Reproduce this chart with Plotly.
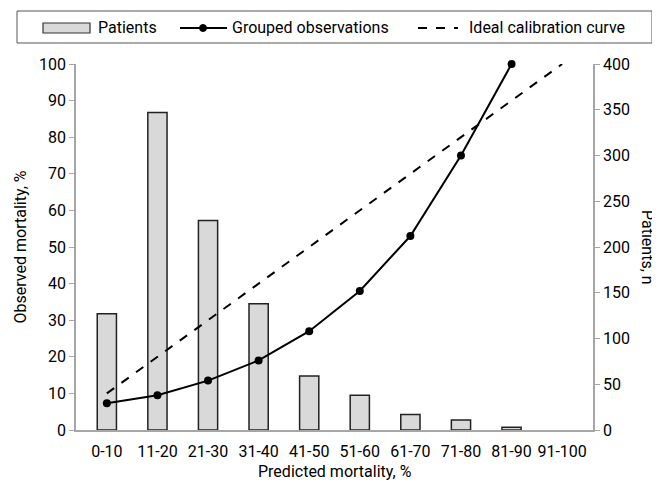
import plotly.graph_objects as go

categories = ["0-10", "11-20", "21-30", "31-40", "41-50", "51-60", "61-70", "71-80", "81-90", "91-100"]
patients = [127, 347, 229, 138, 59, 38, 17, 11, 3, 0]
observed = [7.3, 9.5, 13.5, 19.0, 27.0, 38.0, 53.0, 75.0, 100.0, None]
ideal = [10, 20, 30, 40, 50, 60, 70, 80, 90, 100]
series_names = ["Patients", "Grouped observations", "Ideal calibration curve"]

FONT = "Roboto, Liberation Sans, sans-serif"
FS = 16

OFF = 8  # default page body margin
W, H = 660 - OFF, 489 - 2 * OFF
ML, MT = 76 - OFF, 64 - OFF
PW, PH = 517, 366
MR = W - ML - PW
MB = H - MT - PH


def px(x):
    return (x - OFF - ML) / PW


def py(y):
    return (MT + PH - (y - OFF)) / PH


fig = go.Figure()
fig.add_trace(go.Bar(
    x=categories, y=patients, name=series_names[0], yaxis="y",
    marker=dict(color="#d9d9d9",
                line=dict(color="#222222", width=[1.5 if v > 0 else 0 for v in patients])),
))
fig.add_trace(go.Scatter(
    x=categories, y=observed, name=series_names[1], yaxis="y2",
    mode="lines+markers", line=dict(color="black", width=2),
    marker=dict(color="black", size=8), cliponaxis=False,
))
fig.add_trace(go.Scatter(
    x=categories, y=ideal, name=series_names[2], yaxis="y2",
    mode="lines", line=dict(color="black", width=2, dash="dash"), cliponaxis=False,
))

axis_common = dict(showgrid=False, zeroline=False, showline=True, linecolor="#a6a6a6",
                   linewidth=1.5, ticks="outside", tickcolor="#a6a6a6", ticklen=5,
                   tickfont=dict(size=FS, color="black", family=FONT))

# manual legend (decoration)
shapes = [
    dict(type="rect", xref="paper", yref="paper", x0=px(17), x1=px(652), y0=py(43), y1=py(11),
         line=dict(color="#555555", width=1), fillcolor="white", layer="above"),
    dict(type="rect", xref="paper", yref="paper", x0=px(43), x1=px(90), y0=py(33), y1=py(23),
         line=dict(color="#333333", width=1.2), fillcolor="#d9d9d9"),
    dict(type="line", xref="paper", yref="paper", x0=px(180), x1=px(227), y0=py(28), y1=py(28),
         line=dict(color="black", width=2)),
    dict(type="circle", xref="paper", yref="paper", x0=px(199.5), x1=px(206.5), y0=py(31.5), y1=py(24.5),
         line=dict(color="black", width=1), fillcolor="black"),
    dict(type="line", xref="paper", yref="paper", x0=px(418), x1=px(458), y0=py(28), y1=py(28),
         line=dict(color="black", width=2, dash="dash")),
]
annotations = [
    dict(text=series_names[0], x=px(96), y=py(28), xanchor="left", yanchor="middle"),
    dict(text=series_names[1], x=px(230), y=py(28), xanchor="left", yanchor="middle"),
    dict(text=series_names[2], x=px(467), y=py(28), xanchor="left", yanchor="middle"),
    dict(text="Patients, n", textangle=90, x=px(648), y=0.5, xanchor="center", yanchor="middle"),
    dict(text="Predicted mortality, %", x=0.5, y=py(471), xanchor="center", yanchor="middle"),
]
for a in annotations:
    a.update(xref="paper", yref="paper", showarrow=False, font=dict(size=FS, family=FONT, color="black"))

fig.update_layout(
    width=W, height=H,
    margin=dict(l=ML, r=MR, t=MT, b=MB, autoexpand=False),
    paper_bgcolor="white", plot_bgcolor="white",
    font=dict(family=FONT, size=FS, color="black"),
    bargap=0.62,
    showlegend=False,
    xaxis=dict(showgrid=False, zeroline=False, showline=True, linecolor="#a6a6a6",
               linewidth=1.5, ticks="", tickangle=0, ticklabelstandoff=6,
               tickfont=dict(size=FS, family=FONT)),
    yaxis=dict(side="right", range=[0, 400], dtick=50, **axis_common),
    yaxis2=dict(side="left", overlaying="y", range=[0, 100], dtick=10,
                title=dict(text="Observed mortality, %", font=dict(size=FS, family=FONT), standoff=8),
                **axis_common),
    shapes=shapes,
    annotations=annotations,
)

fig.write_html("out.html")
